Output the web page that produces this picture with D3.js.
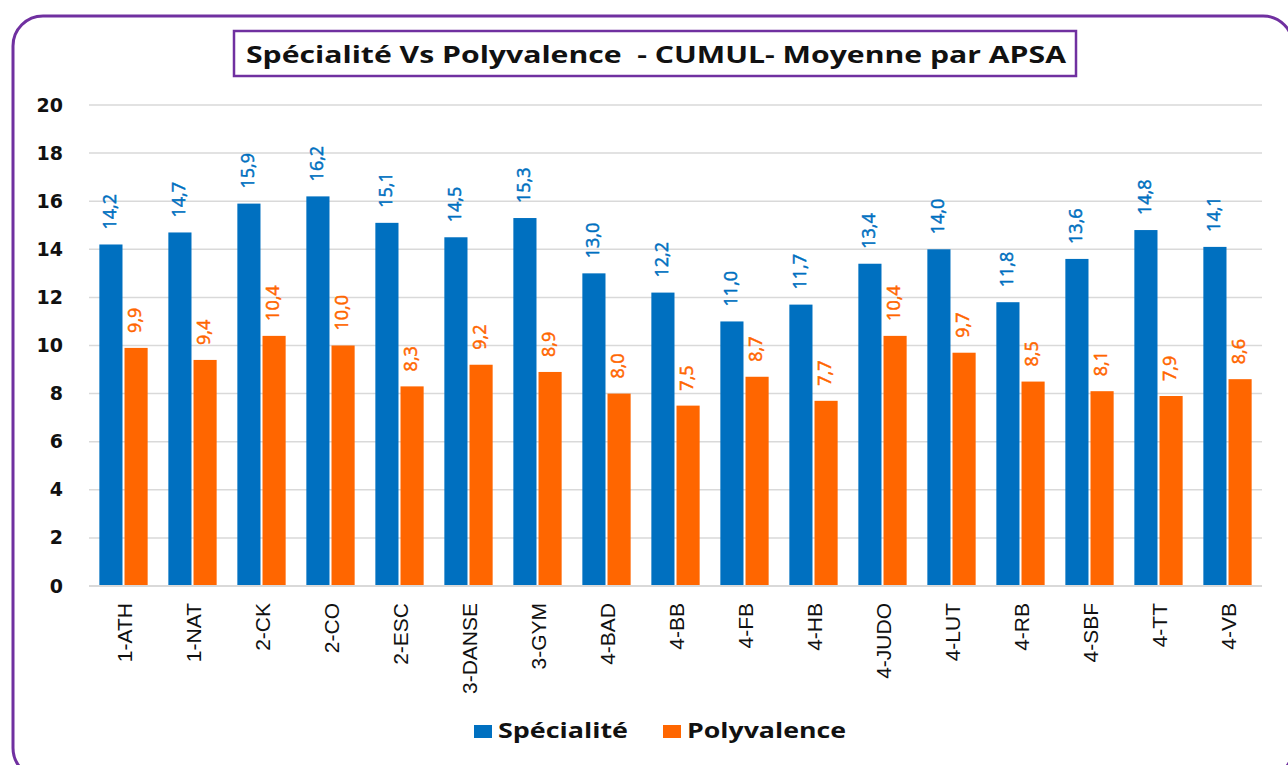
<!DOCTYPE html>
<html>
<head>
<meta charset="utf-8">
<script src="https://cdn.jsdelivr.net/npm/d3@7"></script>
<style>
  body { margin: 0; background: #fff; }
  svg { display: block; }
</style>
</head>
<body>
<div id="chart"></div>
<script>
// data //
var categories = ["1-ATH", "1-NAT", "2-CK", "2-CO", "2-ESC", "3-DANSE", "3-GYM", "4-BAD", "4-BB", "4-FB", "4-HB", "4-JUDO", "4-LUT", "4-RB", "4-SBF", "4-TT", "4-VB"];
var specialite = [14.2, 14.7, 15.9, 16.2, 15.1, 14.5, 15.3, 13.0, 12.2, 11.0, 11.7, 13.4, 14.0, 11.8, 13.6, 14.8, 14.1];
var polyvalence = [9.9, 9.4, 10.4, 10.0, 8.3, 9.2, 8.9, 8.0, 7.5, 8.7, 7.7, 10.4, 9.7, 8.5, 8.1, 7.9, 8.6];
var yTicks = [0, 2, 4, 6, 8, 10, 12, 14, 16, 18, 20];
var seriesNames = ["Spécialité", "Polyvalence"];
var colors = ["#0070C0", "#FF6600"];

var W = 1288, H = 765;
var plot = {left: 89, right: 1262, top: 105, bottom: 586};

var svg = d3.select("#chart").append("svg")
  .attr("width", W)
  .attr("height", H);

// outer rounded frame
svg.append("rect")
  .attr("x", 13).attr("y", 16)
  .attr("width", 1280).attr("height", 762)
  .attr("rx", 30).attr("ry", 30)
  .attr("fill", "#fff")
  .attr("stroke", "#7030A0")
  .attr("stroke-width", 3);

// title box
svg.append("rect")
  .attr("x", 234).attr("y", 31)
  .attr("width", 842).attr("height", 45)
  .attr("fill", "#fff")
  .attr("stroke", "#7030A0")
  .attr("stroke-width", 2.5);

svg.append("text")
  .attr("x", 246).attr("y", 63)
  .attr("textLength", 820)
  .attr("lengthAdjust", "spacingAndGlyphs")
  .style("font-family", "'Open Sans', sans-serif")
  .style("font-weight", "bold")
  .style("font-size", "24px")
  .style("fill", "#111")
  .attr("xml:space", "preserve")
  .text("Spécialité Vs Polyvalence  - CUMUL- Moyenne par APSA");

var x0 = d3.scaleBand()
  .domain(categories)
  .range([plot.left, plot.right])
  .paddingInner(0.3)
  .paddingOuter(0.15);

var x1 = d3.scaleBand()
  .domain(seriesNames)
  .range([0, x0.bandwidth()])
  .paddingInner(0.08);

var y = d3.scaleLinear()
  .domain([0, 20])
  .range([plot.bottom, plot.top]);

// gridlines
svg.append("g")
  .selectAll("line")
  .data(yTicks)
  .enter().append("line")
  .attr("x1", plot.left).attr("x2", plot.right)
  .attr("y1", function(d) { return y(d); })
  .attr("y2", function(d) { return y(d); })
  .attr("stroke", "#d9d9d9")
  .attr("stroke-width", 1.5);

// y axis labels
var yAxis = d3.axisLeft(y).tickValues(yTicks).tickSize(0).tickPadding(0);
var ga = svg.append("g")
  .attr("transform", "translate(" + 63 + ",0)")
  .call(yAxis);
ga.select(".domain").remove();
ga.selectAll("text")
  .style("font-family", "'DejaVu Sans', sans-serif")
  .style("font-weight", "bold")
  .style("font-size", "19px")
  .style("fill", "#111");

// bars
var series = [specialite, polyvalence];
var groups = svg.append("g")
  .selectAll("g")
  .data(categories)
  .enter().append("g")
  .attr("transform", function(d) { return "translate(" + x0(d) + ",0)"; });

series.forEach(function(vals, s) {
  groups.append("rect")
    .attr("x", x1(seriesNames[s]))
    .attr("y", function(d, i) { return y(vals[i]); })
    .attr("width", x1.bandwidth())
    .attr("height", function(d, i) { return y(0) - y(vals[i]); })
    .attr("fill", colors[s]);

  // value labels, rotated
  groups.append("text")
    .attr("transform", function(d, i) {
      var cx = x1(seriesNames[s]) + x1.bandwidth() / 2 + 5;
      return "translate(" + cx + "," + (y(vals[i]) - 15) + ") rotate(-90)";
    })
    .attr("text-anchor", "start")
    .style("font-family", "'Open Sans', sans-serif")
    .style("font-size", "18px")
    .style("fill", colors[s])
    .style("stroke", colors[s])
    .style("stroke-width", 0.5)
    .text(function(d, i) { return d3.format(".1f")(vals[i]).replace(".", ","); });
});

// baseline
svg.append("line")
  .attr("x1", plot.left).attr("x2", plot.right)
  .attr("y1", y(0)).attr("y2", y(0))
  .attr("stroke", "#d9d9d9")
  .attr("stroke-width", 2);

// x labels
svg.append("g")
  .selectAll("text")
  .data(categories)
  .enter().append("text")
  .attr("transform", function(d) {
    return "translate(" + (x0(d) + x0.bandwidth() / 2 + 8) + "," + 603 + ") rotate(-90)";
  })
  .attr("text-anchor", "end")
  .style("font-family", "'Liberation Sans', Arial, sans-serif")
  .style("font-size", "21px")
  .style("fill", "#111")
  .text(function(d) { return d; });

// legend
var legend = svg.append("g");
var legendX = [474, 663];
var legendLen = [130, 159];
seriesNames.forEach(function(name, s) {
  legend.append("rect")
    .attr("x", legendX[s]).attr("y", 725)
    .attr("width", 18).attr("height", 13)
    .attr("fill", colors[s]);
  legend.append("text")
    .attr("x", legendX[s] + 24).attr("y", 738)
    .attr("textLength", legendLen[s])
    .attr("lengthAdjust", "spacingAndGlyphs")
    .style("font-family", "'Open Sans', sans-serif")
    .style("font-weight", "bold")
    .style("font-size", "21px")
    .style("fill", "#111")
    .text(name);
});
</script>
</body>
</html>
